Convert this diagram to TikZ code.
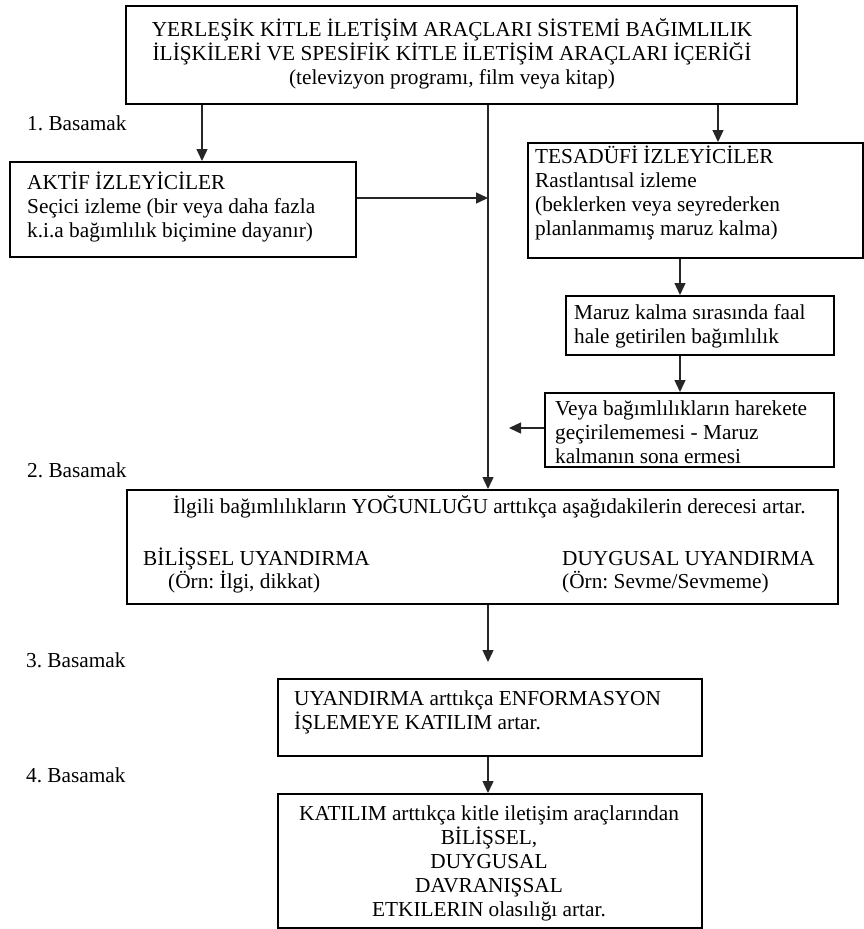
\documentclass[tikz,border=0pt]{standalone}
\usepackage{fontspec}
\setmainfont{Liberation Serif}
\usetikzlibrary{arrows.meta}
\frenchspacing
\begin{document}
\begin{tikzpicture}[x=1pt,y=-1pt,
  box/.style={draw=black, line width=1.8pt, inner sep=0pt, anchor=north west},
  txt/.style={inner sep=0pt, font=\fontsize{21.3}{24}\selectfont\frenchspacing, text=black},
  arr/.style={draw=black!85, line width=1.4pt, -{Triangle[length=12pt,width=11pt]}},
]
\useasboundingbox (0,0) rectangle (864,929);
% boxes
\node[box, minimum width=671pt, minimum height=98pt] (top) at (125,5) {};
\node[box, minimum width=346pt, minimum height=95pt] (aktif) at (9,161) {};
\node[box, minimum width=335pt, minimum height=115pt] (tes) at (527,142) {};
\node[box, minimum width=268pt, minimum height=59pt] (maruz) at (565,295) {};
\node[box, minimum width=289pt, minimum height=74pt] (veya) at (544,392) {};
\node[box, minimum width=711pt, minimum height=114pt] (big) at (126,489) {};
\node[box, minimum width=424pt, minimum height=77pt] (uy) at (277,678) {};
\node[box, minimum width=424pt, minimum height=134pt] (kat) at (277,793) {};
% helper coordinates
\coordinate (m) at (488,0);
\coordinate (a1) at (202,0);
\coordinate (a2) at (718,0);
\coordinate (a3) at (680,0);
\coordinate (ay) at (0,198);
\coordinate (vy) at (0,428);
\coordinate (vend) at (509,428);
\coordinate (uytop) at ([yshift=16pt]uy.north);
% connectors
\draw[arr] (top.south -| a1) -- (aktif.north -| a1);
\draw[arr] (top.south -| a2) -- (tes.north -| a2);
\draw[arr] (top.south -| m) -- (big.north -| m);
\draw[arr] (aktif.east |- ay) -- (m |- ay);
\draw[arr] (tes.south -| a3) -- (maruz.north -| a3);
\draw[arr] (maruz.south -| a3) -- (veya.north -| a3);
\draw[arr] (veya.west |- vy) -- (vend);
\draw[arr] (big.south -| m) -- (uytop -| m);
\draw[arr] (uy.south -| m) -- (kat.north -| m);
% texts
\node[txt, align=center] (topT) at (452,54) {YERLEŞİK KİTLE İLETİŞİM ARAÇLARI SİSTEMİ BAĞIMLILIK\\İLİŞKİLERİ VE SPESİFİK KİTLE İLETİŞİM ARAÇLARI İÇERİĞİ\\(televizyon programı, film veya kitap)};
\node[txt, anchor=west] (s1) at (27,123) {1. Basamak};
\node[txt, anchor=west, align=left] (aktifT) at (27,207) {AKTİF İZLEYİCİLER\\Seçici izleme (bir veya daha fazla\\k.i.a bağımlılık biçimine dayanır)};
\node[txt, anchor=west, align=left] (tesT) at (535,193) {TESADÜFİ İZLEYİCİLER\\Rastlantısal izleme\\(beklerken veya seyrederken\\planlanmamış maruz kalma)};
\node[txt, anchor=west, align=left] (maruzT) at (574,326) {Maruz kalma sırasında faal\\hale getirilen bağımlılık};
\node[txt, anchor=west, align=left] (veyaT) at (555,432) {Veya bağımlılıkların harekete\\geçirilememesi - Maruz\\kalmanın sona ermesi};
\node[txt, anchor=west] (s2) at (27,470) {2. Basamak};
\node[txt, anchor=west] (bigT) at (173,507) {İlgili bağımlılıkların YOĞUNLUĞU arttıkça aşağıdakilerin derecesi artar.};
\node[txt, anchor=west] (bil1) at (143,559) {BİLİŞSEL UYANDIRMA};
\node[txt, anchor=west] (bil2) at (168,582) {(Örn: İlgi, dikkat)};
\node[txt, anchor=west] (dug1) at (562,559) {DUYGUSAL UYANDIRMA};
\node[txt, anchor=west] (dug2) at (562,582) {(Örn: Sevme/Sevmeme)};
\node[txt, anchor=west] (s3) at (26,660) {3. Basamak};
\node[txt, anchor=west, align=left] (uyT) at (294,712) {UYANDIRMA arttıkça ENFORMASYON\\İŞLEMEYE KATILIM artar.};
\node[txt, anchor=west] (s4) at (26,775) {4. Basamak};
\node[txt, align=center] (katT) at (489,863) {KATILIM arttıkça kitle iletişim araçlarından\\BİLİŞSEL,\\DUYGUSAL\\DAVRANIŞSAL\\ETKILERIN olasılığı artar.};
\end{tikzpicture}
\end{document}
